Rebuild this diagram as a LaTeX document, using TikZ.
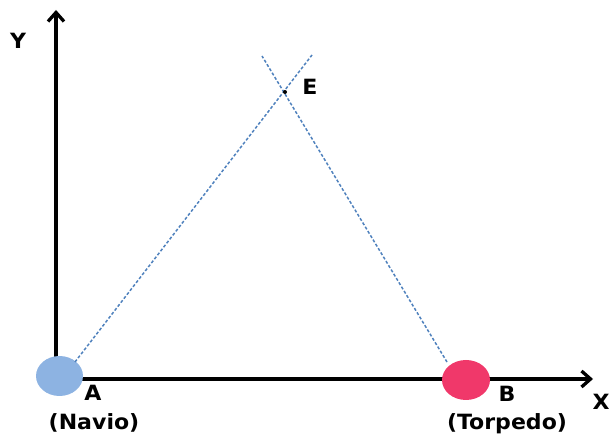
\documentclass[tikz,border=0pt]{standalone}
\usepackage{fontspec}
\setmainfont{DejaVu Sans}
\usetikzlibrary{arrows.meta,shapes.geometric}
\definecolor{ablue}{HTML}{8DB3E2}
\definecolor{bred}{HTML}{F0386A}
\definecolor{dline}{HTML}{4F81BD}
\begin{document}
\begin{tikzpicture}[x=1pt,y=-1pt,
  axis/.style={line width=3.3pt,-{Straight Barb[length=9pt,width=16pt]}},
  lbl/.style={font=\fontsize{21}{23}\selectfont\bfseries,inner sep=0pt,xscale=1.05},
  dot/.style={ellipse,inner sep=0pt,minimum height=40pt},
  traj/.style={dline,line width=1.5pt,dash pattern=on 3pt off 2pt}]
\useasboundingbox (0,0) rectangle (611,443);
\coordinate (O) at (56,379);
\coordinate (Ytip) at (56,10);
\coordinate (Xtip) at (593,379);
\draw[axis] (O) -- (Ytip);
\draw[axis] (O) -- (Xtip);
\node[dot,fill=ablue,minimum width=47pt] (A) at (59.5,376) {};
\node[dot,fill=bred,minimum width=48pt] (B) at (466,380) {};
\coordinate (A1) at (75,362);
\coordinate (A2) at (312,55);
\coordinate (B1) at (447,362);
\coordinate (B2) at (262,56);
\draw[traj] (A1) -- (A2);
\draw[traj] (B1) -- (B2);
\fill (285,92) circle (2pt) coordinate (Ept);
\node[lbl] (E) at (310,87) {E};
\node[lbl] (Al) at (93,393) {A};
\node[lbl] (Nav) at (94,423) {(Navio)};
\node[lbl] (Bl) at (507,394) {B};
\node[lbl] (Tor) at (507,424) {(Torpedo)};
\node[lbl] (Xl) at (601,402) {X};
\node[lbl] (Yl) at (18,41) {Y};
\end{tikzpicture}
\end{document}
